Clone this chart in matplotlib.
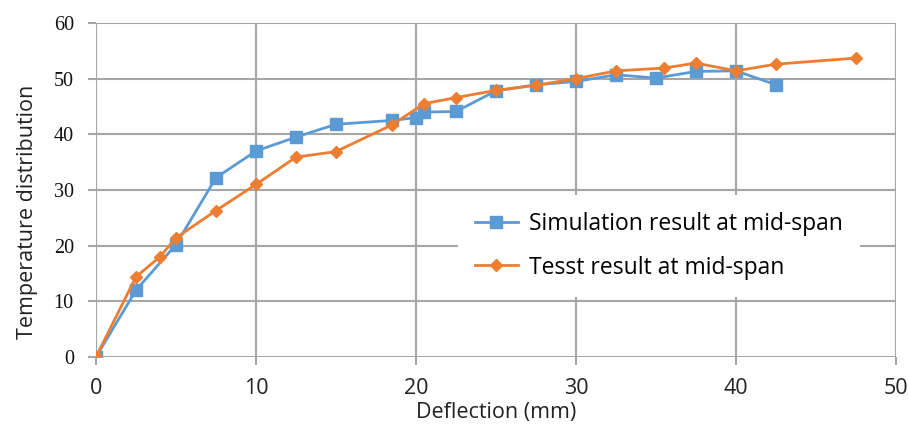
import matplotlib.pyplot as plt

deflection_sim = [0, 2.5, 5, 7.5, 10, 12.5, 15, 18.5, 20, 20.5, 22.5, 25, 27.5, 30, 32.5, 35, 37.5, 40, 42.5]
temp_sim = [0, 12.0, 20.2, 32.2, 37.0, 39.5, 41.8, 42.5, 43.0, 44.0, 44.1, 47.8, 48.9, 49.5, 50.7, 50.1, 51.3, 51.4, 48.9]

deflection_test = [0, 2.5, 4, 5, 7.5, 10, 12.5, 15, 18.5, 20.5, 22.5, 25, 27.5, 30, 32.5, 35.5, 37.5, 40, 42.5, 47.5]
temp_test = [0, 14.4, 18.0, 21.4, 26.3, 31.0, 35.9, 36.9, 41.7, 45.5, 46.6, 47.9, 48.8, 50.0, 51.4, 51.9, 52.8, 51.4, 52.6, 53.7]

x_ticks = [0, 10, 20, 30, 40, 50]
y_ticks = [0, 10, 20, 30, 40, 50, 60]

blue = '#5B9BD5'
orange = '#ED7D31'
grid_col = '#A6A6A6'
sans = ['Open Sans', 'DejaVu Sans']
serif = ['Liberation Serif', 'DejaVu Serif']

fig, ax = plt.subplots()
fig.set_size_inches(9.08, 4.32)
fig.subplots_adjust(left=0.1057, right=0.9868, top=0.9468, bottom=0.1736)

ax.plot(deflection_sim, temp_sim, color=blue, lw=2.0, marker='s', ms=8.5,
        label='Simulation result at mid-span', zorder=3)
ax.plot(deflection_test, temp_test, color=orange, lw=2.0, marker='D', ms=6.5,
        label='Tesst result at mid-span', zorder=4)

ax.set_xlim(0, 50)
ax.set_ylim(0, 60)
ax.set_xticks(x_ticks)
ax.set_yticks(y_ticks)
ax.tick_params(length=6, width=1.5, color=grid_col, direction='out')
ax.tick_params(axis='x', pad=9)
ax.tick_params(axis='y', pad=10)
for t in ax.get_xticklabels():
    t.set_family(sans)
    t.set_fontsize(15.5)
    t.set_color('#222222')
for t in ax.get_yticklabels():
    t.set_family(serif)
    t.set_fontsize(14.5)
    t.set_color('#111111')

ax.grid(True, color=grid_col, lw=1.5)
ax.set_axisbelow(True)
for s in ax.spines.values():
    s.set_visible(False)

ax.set_xlabel('Deflection (mm)', family=sans, fontsize=15.5, color='#222222', labelpad=2)
ax.set_ylabel('Temperature distribution', family=sans, fontsize=15.5, color='#222222', labelpad=11)
ax.yaxis.label.set_y(0.435)

leg = ax.legend(loc='upper left', bbox_to_anchor=(0.4525, 0.4855), borderaxespad=0,
                frameon=True, prop={'family': sans, 'size': 16.5}, handlelength=1.85,
                handletextpad=0.5, borderpad=0.75, labelspacing=0.85)
leg.get_frame().set_edgecolor('none')
leg.get_frame().set_facecolor('white')
leg.get_frame().set_alpha(1)
leg.get_frame().set_boxstyle('square', pad=0)

plt.savefig('out.png', dpi=100)
